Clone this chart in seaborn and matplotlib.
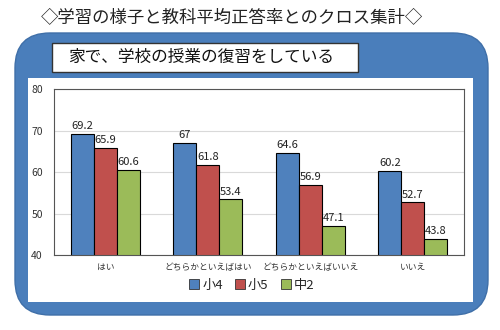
import matplotlib
matplotlib.use("Agg")
import matplotlib.pyplot as plt
import seaborn as sns
import pandas as pd
from matplotlib.patches import FancyBboxPatch, Rectangle
from matplotlib.lines import Line2D

categories = ["はい", "どちらかといえばはい", "どちらかといえばいいえ", "いいえ"]
series = ["小4", "小5", "中2"]
values_s4 = [69.2, 67, 64.6, 60.2]
values_s5 = [65.9, 61.8, 56.9, 52.7]
values_c2 = [60.6, 53.4, 47.1, 43.8]
colors = ["#4F81BD", "#C0504D", "#9BBB59"]
title = "◇学習の様子と教科平均正答率とのクロス集計◇"
subtitle = "家で、学校の授業の復習をしている"

sns.set_theme(style="white")
plt.rcParams['font.family'] = ['Noto Sans CJK JP', 'DejaVu Sans']

rows = []
for s, vals in zip(series, [values_s4, values_s5, values_c2]):
    for c, v in zip(categories, vals):
        rows.append({"cat": c, "series": s, "val": v})
df = pd.DataFrame(rows)

fig = plt.figure(figsize=(5, 3.3), dpi=100)
fig.patch.set_facecolor("white")

W, H = 500.0, 330.0
def fx(x): return x / W
def fy(y): return 1 - y / H

# blue rounded frame
frame = FancyBboxPatch((fx(15), fy(315)), fx(488) - fx(15), fy(33) - fy(315),
                       boxstyle="round,pad=0,rounding_size=0.07",
                       transform=fig.transFigure, facecolor="#4A7EBB",
                       edgecolor="#3F6FA8", linewidth=1, mutation_aspect=W / H,
                       zorder=-10)
fig.patches.append(frame)
inner = Rectangle((fx(28), fy(302)), fx(473) - fx(28), fy(78) - fy(302),
                  transform=fig.transFigure, facecolor="white", edgecolor="none",
                  zorder=-9)
fig.patches.append(inner)
box = Rectangle((fx(52), fy(72)), fx(358) - fx(52), fy(43) - fy(72),
                transform=fig.transFigure, facecolor="white", edgecolor="#333333",
                linewidth=1, zorder=-8)
fig.patches.append(box)

fig.text(fx(232), fy(17), title, ha="center", va="center", fontsize=12.5, color="#222222")
fig.text(fx(201), fy(57.5), subtitle, ha="center", va="center", fontsize=12, color="#111111")

ax = fig.add_axes([fx(54), fy(255), fx(464) - fx(54), fy(89) - fy(255)])
sns.barplot(data=df, x="cat", y="val", hue="series", order=categories,
            hue_order=series, palette=colors, width=0.67, edgecolor="black",
            linewidth=0.8, ax=ax, legend=False, saturation=1)
ax.set_ylim(40, 80)
ax.set_yticks([40, 50, 60, 70, 80])
ax.set_xlim(-0.5, len(categories) - 0.5)
ax.set_xlabel("")
ax.set_ylabel("")
ax.yaxis.grid(True, color="#D9D9D9", linewidth=0.8)
ax.set_axisbelow(True)
for sp in ax.spines.values():
    sp.set_color("#555555")
    sp.set_linewidth(0.8)
ax.tick_params(axis="both", length=0, labelsize=7.5, colors="#333333")
ax.tick_params(axis="x", labelsize=6.3, pad=6)
ax.tick_params(axis="y", pad=8)

for cont, vals in zip(ax.containers, [values_s4, values_s5, values_c2]):
    ax.bar_label(cont, labels=["%g" % v for v in vals], padding=2,
                 fontsize=8, color="#222222")

handles = [Line2D([0], [0], marker="s", linestyle="none", markersize=6.5,
                  markerfacecolor=c, markeredgecolor="#333333", markeredgewidth=0.6)
           for c in colors]
fig.legend(handles, series, loc="center", bbox_to_anchor=(fx(251), fy(285)),
           ncol=3, frameon=False, fontsize=9.5, handletextpad=0.1,
           columnspacing=0.8, handlelength=1.0)

fig.savefig("out.png", dpi=100, facecolor="white")
